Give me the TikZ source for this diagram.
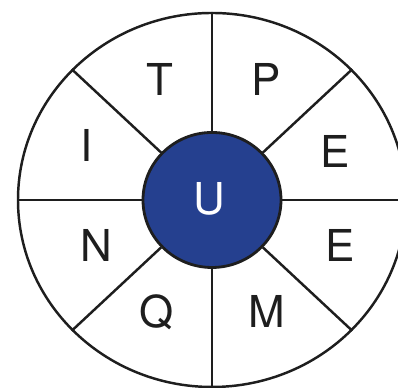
\documentclass[tikz,border=0pt]{standalone}
\usepackage{fontspec}
\setmainfont{TeX Gyre Heros}
\usepackage{tikz}
\usetikzlibrary{shapes.geometric}
\definecolor{HubBlue}{HTML}{25408F}
\definecolor{WheelInk}{HTML}{1E1E1E}

\begin{document}
\begin{tikzpicture}[
    rim/.style={
      ellipse, draw=WheelInk, line width=0.7pt, inner sep=0pt,
      minimum width=3.88cm, minimum height=3.74cm
    },
    hub/.style={
      ellipse, draw=WheelInk, line width=0.8pt, fill=HubBlue, inner sep=0pt,
      minimum width=1.38cm, minimum height=1.35cm
    },
    spoke/.style={line width=0.7pt, color=WheelInk},
    letter/.style={anchor=base, inner sep=0pt, text=WheelInk,
      font=\fontsize{12.5}{14}\selectfont}
  ]

  \clip (0,0) rectangle (3.98,3.88);
  \fill[white] (0,0) rectangle (3.98,3.88);

  % Wheel
  \node[rim] (wheel) at (2.12, 1.88) {};
  \node[hub] (centre) at (2.12, 1.88) {};

  % Spokes
  \foreach \a in {0,43,90,137,180,223,270,317}
    \draw[spoke] (centre.\a) -- (wheel.\a);

  % Letters
  \node[letter] (t) at (1.60, 2.92) {T};
  \node[letter] (p) at (2.66, 2.92) {P};
  \node[letter] (e1) at (3.35, 2.20) {E};
  \node[letter] (i) at (0.87, 2.26) {I};
  \node[letter] (n) at (0.96, 1.26) {N};
  \node[letter] (e2) at (3.40, 1.26) {E};
  \node[letter] (q) at (1.57, 0.60) {Q};
  \node[letter] (m) at (2.67, 0.60) {M};
  \node[letter, text=white] (u) at (2.09, 1.73) {U};

\end{tikzpicture}
\end{document}
